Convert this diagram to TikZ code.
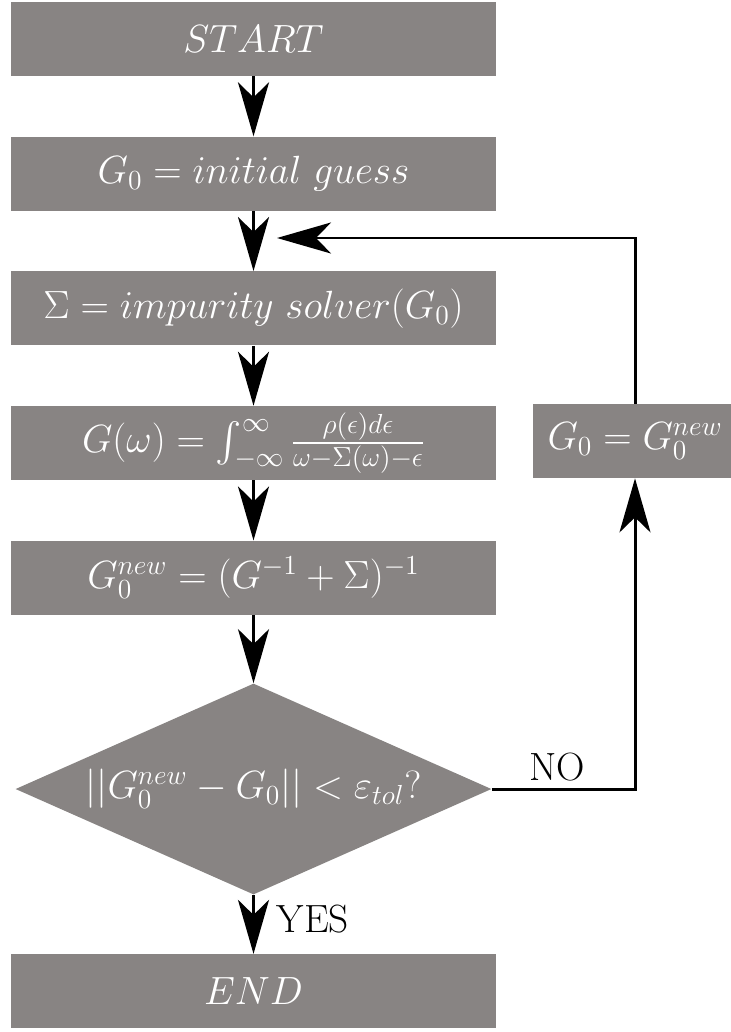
\RequirePackage{fix-cm}
\documentclass[tikz,border=0pt]{standalone}
\usepackage{amsmath,amssymb}
\usetikzlibrary{positioning,shapes.geometric,arrows.meta}
\definecolor{boxgray}{RGB}{136,132,131}
\newcommand{\flowfont}{\fontsize{22.4pt}{27pt}\selectfont}
\tikzset{
    stepBox/.style={fill=boxgray, text=white, minimum width=9.7cm, minimum height=1.48cm, inner sep=0mm, font=\flowfont},
    decision/.style={diamond, aspect=2.25, fill=boxgray, text=white, minimum width=9.52cm, minimum height=4.22cm, inner sep=0mm, font=\flowfont},
    flow/.style={draw, line width=1.7pt, -{Stealth[length=1.08cm, width=0.62cm, inset=0.3cm]}},
    answer/.style={font=\flowfont, inner sep=0mm},
    node distance=1.2cm
}

\begin{document}
\begin{tikzpicture}
			\useasboundingbox (0,0) rectangle (14.6,-20.64);
			\node[stepBox] (start) at (5.07,-0.78) {$START$};
			\node[stepBox, below = of start] (guess) {$G_0 = initial\ guess$};
			\node[stepBox, below = of guess] (solver) {$\Sigma = impurity\ solver(G_0)$};
			\node[stepBox, below = of solver] (green) {$G(\omega) = \int_{-\infty}^{\infty}\frac{\rho(\epsilon)d\epsilon}{\omega-\Sigma(\omega)-\epsilon}$};
			\node[stepBox, below = of green] (dyson) {$G_0^{new} = (G^{-1}+\Sigma)^{-1}$};
			\node[decision, below = 1.36cm of dyson] (check) {$||G_0^{new}-G_0|| < \varepsilon_{tol}?$};
			\node[stepBox, below = 1.18cm of check] (stop) {$END$};
			\node[stepBox, minimum width=4.08cm] (update) at (12.7,-8.82) {$G_0 = G_0^{new}$};
			\coordinate (loopin) at (5.54,-4.76);

			\draw
			(start) edge[flow] (guess)
			(guess) edge[flow] (solver)
			(solver) edge[flow] (green)
			(green) edge[flow] (dyson)
			(dyson) edge[flow] (check)
			(check) edge[flow] node[answer, right=0.44cm, yshift=0.1cm] {YES} (stop);

			\draw[flow] (check.east) -- node[answer, above=0.12cm, xshift=-0.12cm] {NO} (check.east -| update) -- (update);
			\draw[flow] (update) |- (loopin);
		\end{tikzpicture}
\end{document}
